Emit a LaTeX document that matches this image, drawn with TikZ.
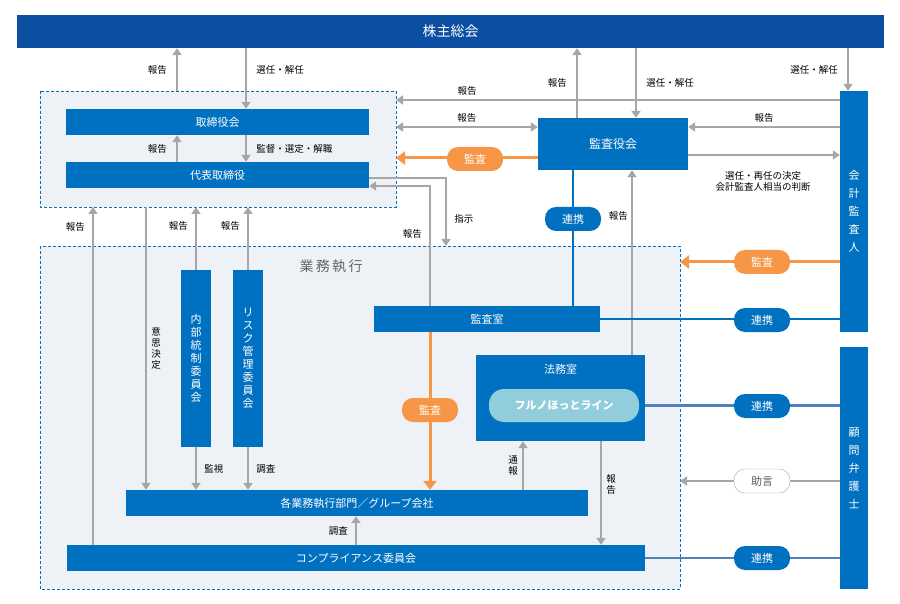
\documentclass[tikz,border=0pt]{standalone}
\usepackage{fontspec}
\setmainfont{Noto Sans CJK JP}
\usetikzlibrary{arrows.meta,positioning}
\definecolor{mainblue}{HTML}{0070C0}
\definecolor{darkblue}{HTML}{0B4EA2}
\definecolor{audorange}{HTML}{F79646}
\definecolor{arrgray}{HTML}{A6A6A6}
\definecolor{regionfill}{HTML}{EEF1F5}
\definecolor{hotline}{HTML}{92CDDC}
\definecolor{steel}{HTML}{4F81BD}
\begin{document}
\begin{tikzpicture}[x=1pt,y=-1pt,
    bar/.style ={rectangle, fill=mainblue, text=white, inner sep=0pt, font=\fontsize{11}{13}\selectfont},
    vbar/.style ={rectangle, fill=mainblue, text=white, inner sep=0pt, font=\fontsize{11}{13}\selectfont, align=center},
    region/.style ={draw=mainblue, densely dashed, fill=regionfill, thin},
    pill_orange/.style ={rounded corners=11pt, fill=audorange, text=white, minimum width=56pt, minimum height=24pt, font=\fontsize{11}{13}\selectfont},
    pill_blue/.style ={rounded corners=11pt, fill=mainblue, text=white, minimum width=56pt, minimum height=24pt, font=\fontsize{11}{13}\selectfont},
    pill_white/.style ={rounded corners=11pt, draw=arrgray, fill=white, text=black!65, minimum width=56pt, minimum height=24pt, font=\fontsize{11}{13}\selectfont},
    lbl/.style ={inner sep=1pt, font=\fontsize{9.5}{11}\selectfont},
    line/.style ={draw=arrgray, line width=2.5pt, -{Triangle[width=9pt,length=7pt]}},
    link/.style ={draw=mainblue, line width=2.5pt},
    auditline/.style ={draw=audorange, line width=3pt, -{Triangle[width=13pt,length=9pt]}}]
  \useasboundingbox (0,0) rectangle (900,604);
  % regions
  \path[region] (40,91) rectangle (396,207);
  \path[region] (40,246) rectangle (680,589);
  \node[anchor=west, text=black!60, font=\fontsize{14}{16}\selectfont] (exectitle) at (296,266) {業\,務\,執\,行};
  % boxes
  \node[bar, fill=darkblue, minimum width=867pt, minimum height=33pt, font=\fontsize{14}{16}\selectfont] (gm) at (450.5,31.5) {株主総会};
  \node[bar, minimum width=303pt, minimum height=26pt] (board) at (217.5,122) {取締役会};
  \node[bar, minimum width=303pt, minimum height=26pt] (rep) at (217.5,175) {代表取締役};
  \node[bar, minimum width=150pt, minimum height=52pt, font=\fontsize{12}{14}\selectfont] (kansayaku) at (613,144) {監査役会};
  \node[vbar, minimum width=28pt, minimum height=241pt] (auditor) at (854,211.5) {会\\[5pt]計\\[5pt]監\\[5pt]査\\[5pt]人};
  \node[vbar, minimum width=28pt, minimum height=242pt] (lawyer) at (854,468) {顧\\[5pt]問\\[5pt]弁\\[5pt]護\\[5pt]士};
  \node[bar, minimum width=226pt, minimum height=26pt] (auditroom) at (487,319) {監査室};
  \node[bar, minimum width=169pt, minimum height=86pt] (legal) at (560.5,398) {};
  \node[text=white, font=\fontsize{11}{13}\selectfont] (legaltitle) at (560.5,369) {法務室};
  \node[rounded corners=15pt, fill=hotline, text=white, minimum width=150pt, minimum height=33pt, font=\bfseries\fontsize{11}{13}\selectfont] (hot) at (564,405.5) {フルノほっとライン};
  \node[vbar, minimum width=30pt, minimum height=177pt] (internal) at (196,358.5) {内\\部\\統\\制\\委\\員\\会};
  \node[vbar, minimum width=30pt, minimum height=177pt] (risk) at (248,358.5) {リ\\ス\\ク\\管\\理\\委\\員\\会};
  \node[bar, minimum width=462pt, minimum height=26pt] (dept) at (357,503) {各業務執行部門／グループ会社};
  \node[bar, minimum width=578pt, minimum height=26pt] (comp) at (356,558) {コンプライアンス委員会};
  % gray arrows
  \draw[line] (177,91) -- (gm.south -| 177,0) node[lbl, midway, left=8pt] {報告};
  \draw[line] (gm.south -| 246,0) -- (board.north -| 246,0) node[lbl, pos=0.35, right=8pt] {選任・解任};
  \draw[line] (rep.north -| 177,0) -- (board.south -| 177,0) node[lbl, midway, left=8pt] {報告};
  \draw[line] (board.south -| 246,0) -- (rep.north -| 246,0) node[lbl, midway, right=8pt] {監督・選定・解職};
  \draw[line] (auditor.west |- 0,100) -- (396,100) node[lbl, pos=0.84, above=2pt] {報告};
  \draw[line, {Triangle[width=9pt,length=7pt]}-{Triangle[width=9pt,length=7pt]}] (396,127) -- (kansayaku.west |- 0,127) node[lbl, midway, above=2pt] {報告};
  \draw[line] (auditor.west |- 0,127) -- (kansayaku.east |- 0,127) node[lbl, midway, above=2pt] {報告};
  \draw[line] (kansayaku.east |- 0,155) -- (auditor.west |- 0,155);
  \node[lbl, align=center] (decide) at (763,181) {選任・再任の決定\\会計監査人相当の判断};
  \draw[line] (kansayaku.north -| 577,0) -- (gm.south -| 577,0) node[lbl, midway, left=8pt] {報告};
  \draw[line] (gm.south -| 636,0) -- (kansayaku.north -| 636,0) node[lbl, midway, right=8pt] {選任・解任};
  \draw[line] (gm.south -| 848,0) -- (auditor.north -| 848,0) node[lbl, midway, left=8pt] {選任・解任};
  \draw[line] (legal.north -| 632,0) -- (kansayaku.south -| 632,0) node[lbl, pos=0.75, left=2pt] {報告};
  \draw[line] (rep.east |- 0,178) -| (446,246) node[lbl, pos=0.8, right=6pt] {指示};
  \draw[line] (auditroom.north -| 430,0) |- (rep.east |- 0,186) node[lbl, pos=0.3, left=6pt] {報告};
  \draw[line] (comp.north -| 93,0) -- (93,207) node[lbl, pos=0.94, left=6pt] {報告};
  \draw[line] (146,207) -- (dept.north -| 146,0) node[lbl, pos=0.5, right=3pt, align=center] {意\\思\\決\\定};
  \draw[line] (internal.north) -- (196,207) node[lbl, pos=0.7, left=6pt] {報告};
  \draw[line] (risk.north) -- (248,207) node[lbl, pos=0.7, left=6pt] {報告};
  \draw[line] (internal.south) -- (dept.north -| internal.south) node[lbl, midway, right=6pt] {監視};
  \draw[line] (risk.south) -- (dept.north -| risk.south) node[lbl, midway, right=6pt] {調査};
  \draw[line] (dept.north -| 523,0) -- (legal.south -| 523,0) node[lbl, midway, left=3pt, align=center] {通\\報};
  \draw[line] (legal.south -| 601,0) -- (comp.north -| 601,0) node[lbl, pos=0.42, right=3pt, align=center] {報\\告};
  \draw[line] (comp.north -| 356,0) -- (dept.south -| 356,0) node[lbl, midway, left=6pt] {調査};
  \draw[line] (auditor.west |- 0,481) -- (680,481);
  \node[pill_white] (advice) at (762,481) {助言};
  % audit (orange)
  \draw[auditline] (kansayaku.west |- 0,158) -- (396,158);
  \node[pill_orange] (audit1) at (475,159) {監査};
  \draw[auditline] (auditor.west |- 0,262) -- (680,262);
  \node[pill_orange] (audit2) at (762,262) {監査};
  \draw[auditline] (auditroom.south -| 430,0) -- (dept.north -| 430,0);
  \node[pill_orange] (audit3) at (430,410) {監査};
  % links (blue)
  \draw[link] (kansayaku.south -| 573,0) -- (auditroom.north -| 573,0);
  \node[pill_blue] (link1) at (573,219) {連携};
  \draw[link] (auditroom.east) -- (auditor.west |- auditroom.east);
  \node[pill_blue] (link2) at (762,320) {連携};
  \draw[link, draw=steel] (legal.east |- hot) -- (lawyer.west |- hot);
  \node[pill_blue] (link3) at (762,406) {連携};
  \draw[link, draw=steel] (comp.east) -- (lawyer.west |- comp.east);
  \node[pill_blue] (link4) at (762,558) {連携};
\end{tikzpicture}
\end{document}
